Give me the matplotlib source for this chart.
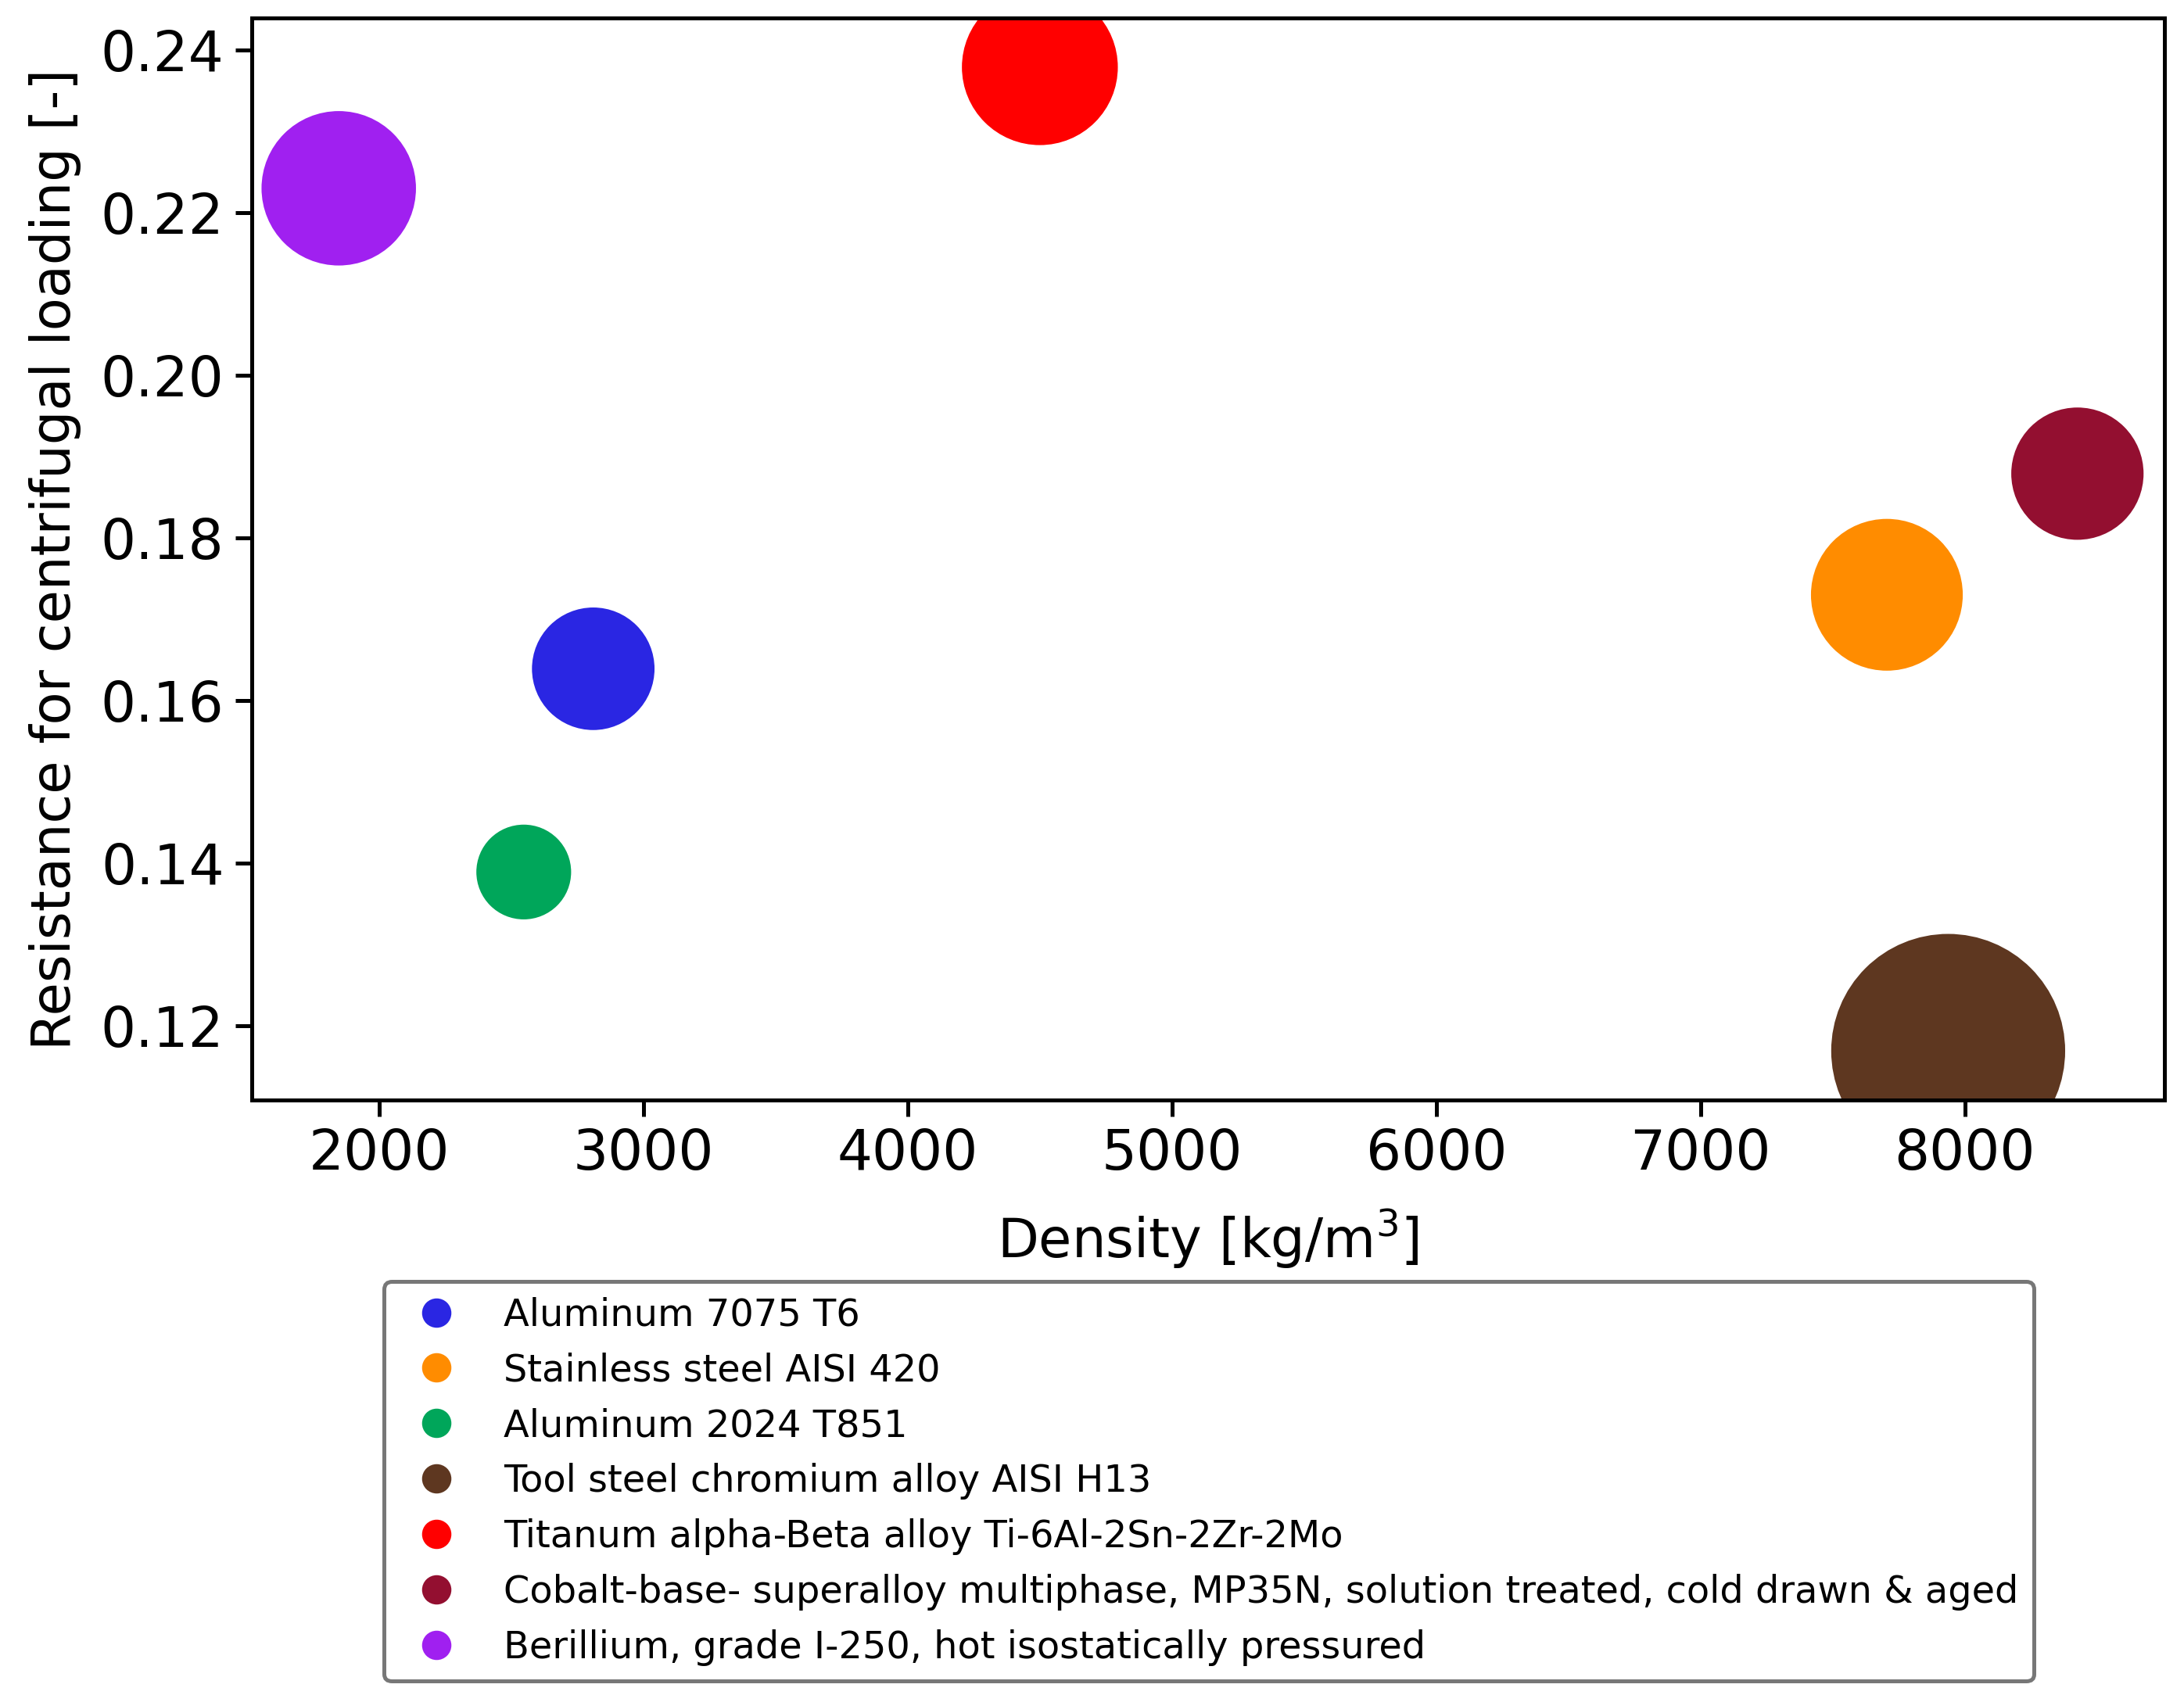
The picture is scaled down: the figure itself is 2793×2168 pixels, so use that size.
import matplotlib
matplotlib.use("Agg")
import matplotlib.pyplot as plt
from matplotlib.lines import Line2D

# Materiaux et proprietes
materials = [
    "Aluminum 7075 T6",
    "Stainless steel AISI 420",
    "Aluminum 2024 T851",
    "Tool steel chromium alloy AISI H13",
    "Titanum alpha-Beta alloy Ti-6Al-2Sn-2Zr-2Mo",
    "Cobalt-base- superalloy multiphase, MP35N, solution treated, cold drawn & aged",
    "Berillium, grade I-250, hot isostatically pressured",
]
density = [2810, 7705, 2547, 7937, 4500, 8426, 1847]
resistance = [0.1639, 0.1730, 0.1389, 0.1169, 0.2379, 0.1879, 0.2230]
bubble = [1415, 2171, 846, 5156, 2290, 1649, 2247]
colors = ["#2a26e3", "#ff8c00", "#00a65a", "#5e3720", "#ff0000", "#930f30", "#a020f0"]

fig = plt.figure(figsize=(2793 / 300, 2168 / 300), dpi=300)
ax = fig.add_axes([0.1153, 0.351, 0.991 - 0.1153, 0.9894 - 0.351])

for d, r, s, c in zip(density, resistance, bubble, colors):
    ax.scatter(d, r, s=s, color=c, edgecolors="none")

ax.set_xlabel("Density [kg/m$^3$]", fontsize=16.5, labelpad=7.5)
ax.set_ylabel("Resistance for centrifugal loading [-]", fontsize=16.5, labelpad=6)
ax.tick_params(labelsize=17, width=1.2, length=5)
for sp in ax.spines.values():
    sp.set_linewidth(1.2)
ax.set_yticks([0.12, 0.14, 0.16, 0.18, 0.20, 0.22, 0.24])

# legende avec des marqueurs de meme taille
handles = [Line2D([], [], marker="o", linestyle="none", color=c, markersize=8) for c in colors]
leg = fig.legend(handles, materials, loc="upper center", bbox_to_anchor=(0.5535, 0.255),
                 fontsize=11.5, frameon=True, labelspacing=0.5, handletextpad=0.8)
leg.get_frame().set_edgecolor("#555555")
leg.get_frame().set_linewidth(1.2)

fig.savefig("out.png", dpi=300)
